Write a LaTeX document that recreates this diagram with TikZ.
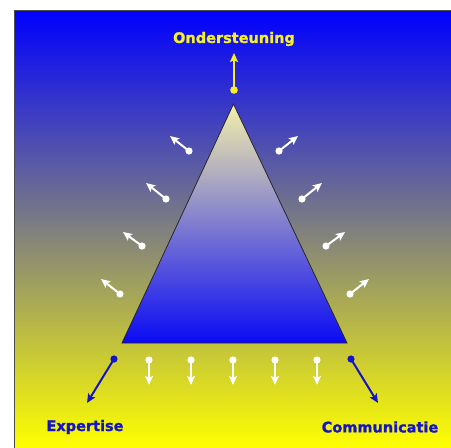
\documentclass[tikz,border=0pt]{standalone}
\usepackage{fontspec}
\newfontfamily\labelfont{DejaVu Sans}[BoldFeatures={FakeBold=1.2}]
\usetikzlibrary{arrows.meta}
\definecolor{skyblue}{RGB}{0,0,255}
\definecolor{sunyellow}{RGB}{255,255,0}
\definecolor{paleyellow}{RGB}{245,240,170}
\definecolor{deepblue}{RGB}{10,10,245}
\definecolor{inkblue}{RGB}{20,20,200}
\definecolor{labelyellow}{RGB}{245,240,40}
\begin{document}
\begin{tikzpicture}[x=1pt,y=-1pt,
  flowarrow/.style={line width=2pt, -{Stealth[length=9pt,width=8pt,inset=1.8pt]}},
  whitearrow/.style={flowarrow, draw=white},
  bluearrow/.style={flowarrow, draw=inkblue, fill=inkblue},
  yellowarrow/.style={flowarrow, draw=labelyellow, fill=labelyellow},
  label/.style={font=\labelfont\bfseries\fontsize{14.5}{16}\selectfont, inner sep=0pt}
]
\useasboundingbox (0,0) rectangle (451,448);
\fill[white] (0,0) rectangle (451,448);

% backdrop: blue sky fading to yellow
\shade[top color=skyblue, bottom color=sunyellow] (14,10) rectangle (451,448);
\draw[gray!60!black, line width=0.8pt] (14,448) -- (14,10) -- (451,10);

% the pyramid
\coordinate (apex) at (233.5,104);
\coordinate (bl) at (122,343);
\coordinate (br) at (347,343);
\shade[top color=paleyellow, bottom color=deepblue] (apex) -- (bl) -- (br) -- cycle;
\draw[black!85, line width=0.8pt] (apex) -- (bl) -- (br) -- cycle;

% top: support
\coordinate (topdot) at (234,90);
\coordinate (toptip) at (234,53);
\draw[yellowarrow] (topdot) -- (toptip);
\fill[labelyellow] (topdot) circle (3.8pt);
\node[label, text=labelyellow] (support) at (234,39) {Ondersteuning};

% left flank
\foreach \i/\dx/\dy/\tx/\ty in {1/189/151/170/136, 2/166/199/146/183, 3/142/246/123/232, 4/120/294/101/279}{
  \coordinate (ld\i) at (\dx,\dy);
  \coordinate (lt\i) at (\tx,\ty);
  \draw[whitearrow] (ld\i) -- (lt\i);
  \fill[white] (ld\i) circle (3.6pt);
}

% right flank
\foreach \i/\dx/\dy/\tx/\ty in {1/279/151/298/136, 2/302/199/322/183, 3/326/246/345/232, 4/350/294/369/279}{
  \coordinate (rd\i) at (\dx,\dy);
  \coordinate (rt\i) at (\tx,\ty);
  \draw[whitearrow] (rd\i) -- (rt\i);
  \fill[white] (rd\i) circle (3.6pt);
}

% base
\foreach \i/\x in {1/149, 2/191, 3/233, 4/275, 5/317}{
  \coordinate (bd\i) at (\x,360);
  \coordinate (bt\i) at (\x,385);
  \draw[whitearrow] (bd\i) -- (bt\i);
  \fill[white] (bd\i) circle (3.6pt);
}

% corners: expertise and communication
\coordinate (exdot) at (114,359);
\coordinate (extip) at (87,403);
\draw[bluearrow] (exdot) -- (extip);
\fill[inkblue] (exdot) circle (3.6pt);
\node[label, text=inkblue] (expertise) at (85,427) {Expertise};

\coordinate (comdot) at (351,359);
\coordinate (comtip) at (378,403);
\draw[bluearrow] (comdot) -- (comtip);
\fill[inkblue] (comdot) circle (3.6pt);
\node[label, text=inkblue] (communication) at (380,427) {Communicatie};
\end{tikzpicture}
\end{document}
